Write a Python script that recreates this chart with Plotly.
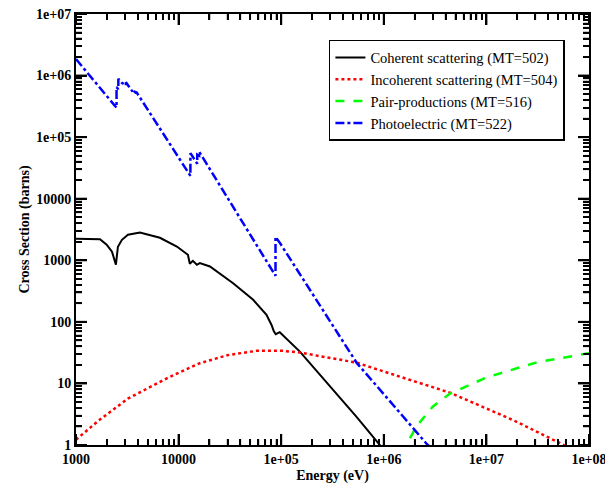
import plotly.graph_objects as go

# ---- data ----
coh_E = [1000, 1713, 1991, 2242, 2449, 2562, 2803, 3210, 4197, 6575, 9618, 12320,
         12870, 13770, 15070, 16100, 20200, 34000, 53300, 71900, 80500, 84800,
         88500, 96800, 1.52e5, 3.2e5, 5.4e5, 9.48e5, 1.2e6]
coh_xs = [2240, 2200, 1790, 1375, 850, 1660, 2150, 2600, 2830, 2320, 1675, 1230,
          880, 980, 845, 900, 794, 425, 228, 130, 89, 70,
          63, 68, 32.9, 7.8, 2.9, 0.93, 0.6]

inc_E = [1000, 1660, 3200, 7600, 16100, 30000, 57400, 1.04e5, 1.52e5, 5.4e5,
         1.43e6, 4.39e6, 1.81e7, 5.56e7, 1e8]
inc_xs = [1.22, 2.49, 5.66, 12.0, 21.3, 28.8, 33.8, 33.8, 31.7, 21.8,
          12.9, 7.1, 2.55, 1.04, 0.63]

pair_E = [1.1e6, 1.3e6, 1.5e6, 1.66e6, 2.07e6, 3.0e6, 4.39e6, 1e7, 3.1e7, 1e8]
pair_xs = [0.05, 0.25, 0.6, 1.0, 1.99, 4.2, 6.8, 12.5, 22.0, 31.0]

pe_E = [1000, 2484, 2484, 2586, 2586, 2800, 3066, 3066, 3554, 3554, 3851, 3851,
        13035, 13035, 15200, 15200, 15861, 15861, 88005, 88005,
        96800, 2.38e5, 5.45e5, 1.14e6, 2.62e6, 3.0e6]
pe_xs = [1.85e6, 3.0e5, 6.5e5, 6.0e5, 8.9e5, 7.6e5, 6.9e5, 7.8e5, 5.5e5, 5.9e5, 5.2e5, 5.5e5,
         2.35e4, 5.5e4, 3.7e4, 5.2e4, 5.0e4, 5.8e4, 560, 2400,
         1930, 182, 21.5, 5.2, 1.04, 0.85]

x_tickvals = [1e3, 1e4, 1e5, 1e6, 1e7, 1e8]
x_ticktext = ["1000", "10000", "1e+05", "1e+06", "1e+07", "1e+08"]
y_tickvals = [1, 10, 100, 1e3, 1e4, 1e5, 1e6, 1e7]
y_ticktext = ["1", "10", "100", "1000", "10000", "1e+05", "1e+06", "1e+07"]

# minor tick positions (2..9 within each decade)
x_minor = [m * 10 ** k for k in range(3, 8) for m in range(2, 10)]
y_minor = [m * 10 ** k for k in range(0, 7) for m in range(2, 10)]

FONT = "Liberation Serif"

fig = go.Figure()
fig.add_trace(go.Scatter(x=coh_E, y=coh_xs, mode="lines",
                         name="Coherent scattering (MT=502)",
                         line=dict(color="black", width=2)))
fig.add_trace(go.Scatter(x=inc_E, y=inc_xs, mode="lines",
                         name="Incoherent scattering (MT=504)",
                         line=dict(color="#ff0000", width=2.5, dash="dot")))
fig.add_trace(go.Scatter(x=pair_E, y=pair_xs, mode="lines",
                         name="Pair-productions (MT=516)",
                         line=dict(color="#00ff00", width=2.5, dash="dash")))
fig.add_trace(go.Scatter(x=pe_E, y=pe_xs, mode="lines",
                         name="Photoelectric (MT=522)",
                         line=dict(color="#0000ff", width=2.5, dash="dashdot")))


def make_axis(rng, tv, tt, minor_vals, title):
    return dict(
        type="log", range=rng, showgrid=False, zeroline=False,
        showline=True, linecolor="black", linewidth=2, mirror="allticks",
        tickmode="array", tickvals=tv, ticktext=tt,
        ticks="inside", ticklen=11, tickwidth=2, tickcolor="black",
        minor=dict(ticks="inside", ticklen=6, tickwidth=1.5, tickcolor="black",
                   tickmode="array", tickvals=minor_vals, showgrid=False),
        tickfont=dict(family=FONT, size=14, color="black", weight="bold"),
        ticklabeloverflow="allow",
        automargin=False,
        title=dict(text=title, standoff=4,
                   font=dict(family=FONT, size=14, color="black", weight="bold")),
    )


# tick marks drawn inside the frame on all four sides, placed by the axes
shapes = []
for vals, length, width in ((x_tickvals, 11, 2), (x_minor, 6, 1.5)):
    for v in vals:
        for anchor, sign in ((0, 1), (1, -1)):
            shapes.append(dict(type="line", xref="x", yref="y domain", layer="above",
                               x0=v, x1=v, ysizemode="pixel", yanchor=anchor,
                               y0=0, y1=sign * length,
                               line=dict(color="black", width=width)))
for vals, length, width in ((y_tickvals, 11, 2), (y_minor, 6, 1.5)):
    for v in vals:
        for anchor, sign in ((0, 1), (1, -1)):
            shapes.append(dict(type="line", xref="x domain", yref="y", layer="above",
                               y0=v, y1=v, xsizemode="pixel", xanchor=anchor,
                               x0=0, x1=sign * length,
                               line=dict(color="black", width=width)))

fig.update_layout(
    width=605, height=488,
    margin=dict(l=76, r=16, t=14, b=43),
    paper_bgcolor="white", plot_bgcolor="white",
    showlegend=True,
    legend=dict(x=0.493, y=0.9397, xanchor="left", yanchor="top",
                bgcolor="white", bordercolor="black", borderwidth=1.5,
                font=dict(family=FONT, size=14.5, color="black"),
                tracegroupgap=0),
    xaxis=make_axis([3, 8], x_tickvals, x_ticktext, x_minor, "Energy (eV)"),
    yaxis=make_axis([0, 7], y_tickvals, y_ticktext, y_minor, "Cross Section (barns)"),
    shapes=shapes,
)
fig.update_yaxes(title_standoff=3)

fig.write_html("out.html",
               config={"displayModeBar": False},
               post_script="document.body.style.margin='0px';document.body.style.overflow='hidden';")
